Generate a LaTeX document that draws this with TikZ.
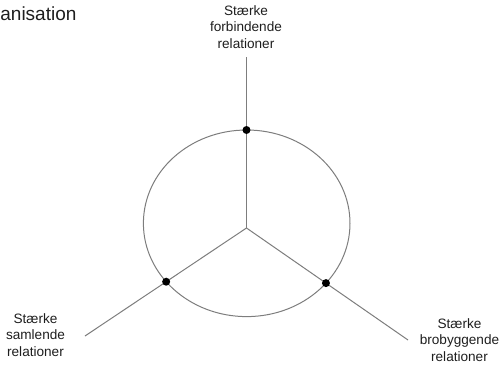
\documentclass[tikz,border=0pt]{standalone}
\usepackage{fontspec}
\setmainfont{Liberation Sans}
\usetikzlibrary{intersections}
\definecolor{linegray}{RGB}{125,125,125}
\definecolor{txt}{RGB}{30,30,30}
\tikzset{
  spoke/.style={draw=linegray, line width=1pt},
  ring/.style={draw=linegray, line width=1pt},
  dotmark/.style={circle, fill=black, inner sep=0pt, minimum size=8pt},
  lbl/.style={align=center, font=\fontsize{13.6}{16.5}\selectfont, text=txt, inner sep=0pt},
  ttl/.style={font=\fontsize{19}{22}\selectfont, text=txt, inner sep=0pt, anchor=base west}
}
\begin{document}
\begin{tikzpicture}[x=1pt,y=1pt]
\useasboundingbox (0,0) rectangle (499,-368);
% title fragment
\node[ttl] (title) at (0.2,-20.7) {anisation};
% geometry
\coordinate (C) at (246.5,-228);
\coordinate (T) at (246.5,-57);
\coordinate (L) at (85,-336);
\coordinate (R) at (408,-340);
\path[ring, name path=ring] (246.7,-223.3) ellipse [x radius=103.3, y radius=93.3];
\path[spoke, name path=sT] (C) -- (T);
\path[spoke, name path=sL] (C) -- (L);
\path[spoke, name path=sR] (C) -- (R);
\path[name intersections={of=ring and sT, by=iT}];
\path[name intersections={of=ring and sL, by=iL}];
\path[name intersections={of=ring and sR, by=iR}];
\node[dotmark] (dT) at (iT) {};
\node[dotmark] (dL) at (iL) {};
\node[dotmark] (dR) at (iR) {};
% labels
\node[lbl] (top) at (246,-27) {Stærke\\forbindende\\relationer};
\node[lbl] (left) at (35.5,-335) {Stærke\\samlende\\relationer};
\node[lbl] (right) at (459.5,-340) {Stærke\\brobyggende\\relationer};
\end{tikzpicture}
\end{document}
